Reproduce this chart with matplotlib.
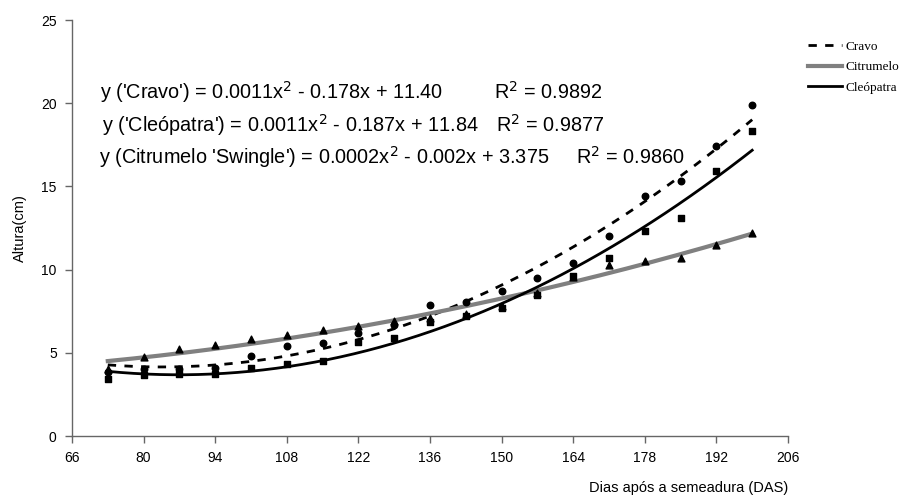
import numpy as np
import matplotlib
matplotlib.use('Agg')
import matplotlib.pyplot as plt

# ---------------------------------------------------------
# Data
# ---------------------------------------------------------
dias = [73, 80, 87, 94, 101, 108, 115, 122, 129, 136,
        143, 150, 157, 164, 171, 178, 185, 192, 199]

cravo = [3.85, 4.0, 4.0, 4.1, 4.8, 5.4, 5.6, 6.2, 6.7, 7.9,
         8.05, 8.7, 9.5, 10.4, 12.0, 14.4, 15.3, 17.4, 19.9]

cleopatra = [3.4, 3.65, 3.75, 3.7, 4.1, 4.3, 4.5, 5.65, 5.9, 6.85,
             7.2, 7.7, 8.5, 9.6, 10.7, 12.3, 13.1, 15.9, 18.3]

citrumelo = [4.0, 4.75, 5.2, 5.45, 5.8, 6.05, 6.4, 6.6, 6.9, 7.1,
             7.35, 7.8, 8.6, 9.55, 10.3, 10.5, 10.7, 11.5, 12.2]

x_ticks = [66, 80, 94, 108, 122, 136, 150, 164, 178, 192, 206]
y_ticks = [0, 5, 10, 15, 20, 25]

equations = [
    ("y ('Cravo') = 0.0011x$^2$ - 0.178x + 11.40", "R$^2$ = 0.9892"),
    ("y ('Cleópatra') = 0.0011x$^2$ - 0.187x + 11.84", "R$^2$ = 0.9877"),
    ("y (Citrumelo 'Swingle') = 0.0002x$^2$ - 0.002x + 3.375", "R$^2$ = 0.9860"),
]

W, H = 909, 499

fig = plt.figure(figsize=(W / 100, H / 100), dpi=100)
ax = fig.add_axes([72 / W, 1 - 436 / H, (788 - 72) / W, (436 - 20) / H])

x = np.array(dias, dtype=float)
xs = np.linspace(x.min(), x.max(), 200)

# trend lines (2nd order polynomial, as in the source)
p_cravo = np.polyfit(x, cravo, 2)
p_cleo = np.polyfit(x, cleopatra, 2)
p_citr = np.polyfit(x, citrumelo, 2)

ax.plot(xs, np.polyval(p_cravo, xs), color='black', lw=2, dashes=(3, 3),
        label='Cravo', zorder=3)
ax.plot(xs, np.polyval(p_citr, xs), color='#808080', lw=3,
        label='Citrumelo', zorder=3)
ax.plot(xs, np.polyval(p_cleo, xs), color='black', lw=2,
        label='Cleópatra', zorder=3)

# observed points
ax.scatter(dias, cravo, marker='o', s=22, color='black', zorder=4)
ax.scatter(dias, cleopatra, marker='s', s=22, color='black', zorder=4)
ax.scatter(dias, citrumelo, marker='^', s=24, color='black', zorder=4)

ax.set_xlim(66, 206)
ax.set_ylim(0, 25)
ax.set_xticks(x_ticks)
ax.set_yticks(y_ticks)

for side in ['top', 'right']:
    ax.spines[side].set_visible(False)
for side in ['left', 'bottom']:
    ax.spines[side].set_color('#666666')
    ax.spines[side].set_linewidth(1)

ax.tick_params(direction='out', length=5, width=1, color='#666666',
               labelsize=10, pad=6)
for lab in ax.get_xticklabels() + ax.get_yticklabels():
    lab.set_family('Liberation Sans')

fig.text(20 / W, 1 - 228 / H, 'Altura(cm)', rotation=90, ha='center',
         va='center', fontsize=10.5, family='Liberation Sans')
fig.text(788 / W, 1 - 488 / H, 'Dias após a semeadura (DAS)', ha='right',
         va='center', fontsize=10.5, family='Liberation Sans')

# regression equations
eq_pos = [(100, 92, 494), (102, 125, 496), (99, 157, 576)]
for (eq, r2), (ex, ey, rx) in zip(equations, eq_pos):
    fig.text(ex / W, 1 - ey / H, eq, ha='left', va='center', fontsize=14.3,
             family='Liberation Sans')
    fig.text(rx / W, 1 - ey / H, r2, ha='left', va='center', fontsize=14.3,
             family='Liberation Sans')

leg = ax.legend(loc='upper left', bbox_to_anchor=(805 / W, 1 - 38 / H),
                bbox_transform=fig.transFigure, frameon=False,
                prop={'family': 'Liberation Serif', 'size': 9.5},
                handlelength=2.6, handletextpad=0.3, labelspacing=0.62,
                borderpad=0.2, borderaxespad=0)

fig.savefig('out.png', dpi=100)
